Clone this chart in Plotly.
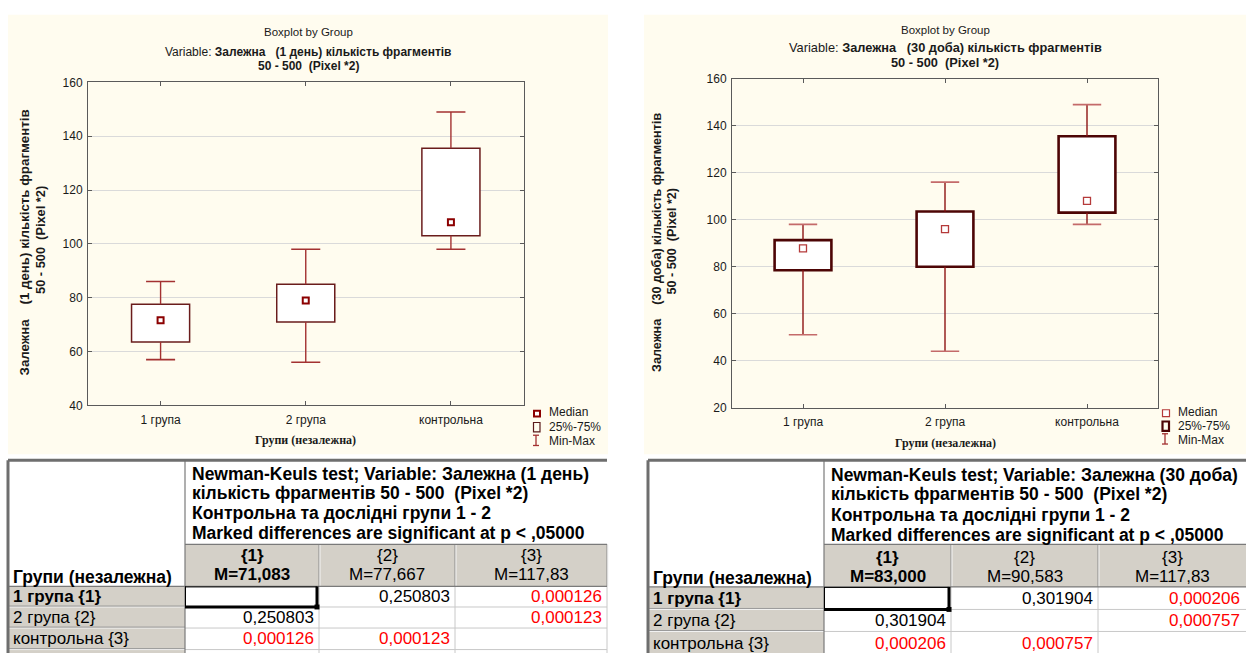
import plotly.graph_objects as go

W, H = 1246, 660
FONT = "Liberation Sans, Arial, sans-serif"
SERIF = "Liberation Serif, Times New Roman, serif"
NB = "\u00a0"

# ---------------- data ----------------
categories = ["1 група", "2 група", "контрольна"]

day1_min = [57, 56, 98]
day1_q1 = [63.5, 71, 103]
day1_median = [71.6, 79, 108]
day1_q3 = [77.6, 85, 135.5]
day1_max = [86, 98, 149]
day1_yticks = [40, 60, 80, 100, 120, 140, 160]

day30_min = [51, 44, 98]
day30_q1 = [78.5, 80, 103]
day30_median = [87.8, 96, 108]
day30_q3 = [91.3, 103.5, 135.5]
day30_max = [98, 116, 149]
day30_yticks = [20, 40, 60, 80, 100, 120, 140, 160]

legend_labels = ["Median", "25%-75%", "Min-Max"]

alpha = 0.05
day1_means = [71.083, 77.667, 117.83]
day1_p = [[None, 0.250803, 0.000126],
          [0.250803, None, 0.000123],
          [0.000126, 0.000123, None]]
day30_means = [83.000, 90.583, 117.83]
day30_p = [[None, 0.301904, 0.000206],
           [0.301904, None, 0.000757],
           [0.000206, 0.000757, None]]

day1_header = ["Newman-Keuls test; Variable: Залежна (1 день)",
               "кількість фрагментів 50 - 500" + NB + NB + "(Pixel *2)",
               "Контрольна та дослідні групи 1 - 2",
               "Marked differences are significant at p < ,05000"]
day30_header = ["Newman-Keuls test; Variable: Залежна (30 доба)",
                "кількість фрагментів 50 - 500" + NB + NB + "(Pixel *2)",
                "Контрольна та дослідні групи 1 - 2",
                "Marked differences are significant at p < ,05000"]
group_col_title = "Групи (незалежна)"
row_labels = [c + " {" + str(i + 1) + "}" for i, c in enumerate(categories)]

# ---------------- figure ----------------
fig = go.Figure()


def pxx(x):
    return x / W


def pxy(y):
    return 1 - y / H


CAP = 0.1
charts = [
    dict(xa="x", ya="y", mn=day1_min, q1=day1_q1, med=day1_median, q3=day1_q3, mx=day1_max,
         box_line="#6a1c1c", box_w=1.5, wh="#a33131", cap="#a33131",
         med_color="#8b0000", med_size=6, med_lw=2),
    dict(xa="x2", ya="y2", mn=day30_min, q1=day30_q1, med=day30_median, q3=day30_q3, mx=day30_max,
         box_line="#4d0505", box_w=2.6, wh="#8e1414", cap="#c46a6a",
         med_color="#b53a3a", med_size=7, med_lw=1.3),
]
xs = list(range(len(categories)))
for c in charts:
    fig.add_trace(go.Bar(
        x=xs, base=c["q1"], y=[b - a for a, b in zip(c["q1"], c["q3"])], width=0.4,
        marker=dict(color="white", line=dict(color=c["box_line"], width=c["box_w"])),
        xaxis=c["xa"], yaxis=c["ya"], showlegend=False, hoverinfo="skip"))
    wx, wy = [], []
    for i in xs:
        wx += [i, i, None, i, i, None]
        wy += [c["q3"][i], c["mx"][i], None, c["q1"][i], c["mn"][i], None]
    fig.add_trace(go.Scatter(x=wx, y=wy, mode="lines", line=dict(color=c["wh"], width=1.4),
                             xaxis=c["xa"], yaxis=c["ya"], showlegend=False, hoverinfo="skip"))
    cx, cy = [], []
    for i in xs:
        cx += [i - CAP, i + CAP, None, i - CAP, i + CAP, None]
        cy += [c["mx"][i], c["mx"][i], None, c["mn"][i], c["mn"][i], None]
    fig.add_trace(go.Scatter(x=cx, y=cy, mode="lines", line=dict(color=c["cap"], width=1.6),
                             xaxis=c["xa"], yaxis=c["ya"], showlegend=False, hoverinfo="skip"))
    fig.add_trace(go.Scatter(x=xs, y=c["med"], mode="markers",
                             marker=dict(symbol="square", size=c["med_size"], color="white",
                                         line=dict(color=c["med_color"], width=c["med_lw"])),
                             xaxis=c["xa"], yaxis=c["ya"], showlegend=False, hoverinfo="skip"))

# invisible anchor trace for the table subplot
fig.add_trace(go.Scatter(x=[0], y=[H], mode="markers", marker=dict(size=1, opacity=0),
                         xaxis="x3", yaxis="y3", showlegend=False, hoverinfo="skip"))

AX = "#5a5a5a"
tickfont = dict(family=FONT, size=12, color="#1a1a1a")
common_x = dict(range=[-0.5, 2.5], tickvals=xs, ticktext=categories, showline=True, linecolor=AX,
                linewidth=1, mirror="ticks", ticks="inside", ticklen=4, tickcolor=AX,
                showgrid=False, zeroline=False, tickfont=tickfont, fixedrange=True, ticklabelstandoff=3)
common_y = dict(showline=True, linecolor=AX, linewidth=1, mirror="ticks", ticks="inside", ticklen=4,
                tickcolor=AX, showgrid=True, gridcolor="#dadada", gridwidth=1, zeroline=False,
                tickfont=tickfont, fixedrange=True, ticklabelstandoff=2)

fig.update_layout(
    width=W, height=H, margin=dict(l=0, r=0, t=0, b=0),
    paper_bgcolor="white", plot_bgcolor="white", showlegend=False, barmode="overlay",
    xaxis=dict(domain=[pxx(88), pxx(523.5)], anchor="y", **common_x),
    yaxis=dict(domain=[pxy(407), pxy(77)], anchor="x", range=[40, 160], tickvals=day1_yticks, **common_y),
    xaxis2=dict(domain=[pxx(732), pxx(1158)], anchor="y2", **common_x),
    yaxis2=dict(domain=[pxy(409.3), pxy(73.3)], anchor="x2", range=[20, 160], tickvals=day30_yticks, **common_y),
    xaxis3=dict(domain=[0, 1], range=[0, W], visible=False, anchor="y3", fixedrange=True),
    yaxis3=dict(domain=[0, pxy(457)], range=[H, 457], visible=False, anchor="x3", fixedrange=True),
)

shapes = []
annotations = []

# cream panels
CREAM = "#fffcef"
shapes.append(dict(type="rect", xref="paper", yref="paper", x0=pxx(8), x1=pxx(608), y0=pxy(457), y1=pxy(8),
                   fillcolor=CREAM, line=dict(width=0), layer="below"))
shapes.append(dict(type="rect", xref="paper", yref="paper", x0=pxx(644), x1=pxx(1246), y0=pxy(457), y1=pxy(8),
                   fillcolor=CREAM, line=dict(width=0), layer="below"))


def ptext(x, y, s, size=12, bold=False, family=FONT, anchor="center", angle=0, color="#1a1a1a"):
    annotations.append(dict(xref="paper", yref="paper", x=pxx(x), y=pxy(y), text=("<b>%s</b>" % s) if bold else s,
                            showarrow=False, xanchor=anchor, yanchor="middle", textangle=angle,
                            font=dict(family=family, size=size, color=color)))


# chart titles
sp3 = NB * 3
sp4 = NB * 4
titles = [
    dict(cx=308, ys=(25.7, 45.7, 60), tsz=12, var="Залежна" + sp3 + "(1 день) кількість фрагментів",
         ytx=(24, 41), yty=(240.5, 238), ysz=(13.3, 12.8),
         ytitle="Залежна" + sp4 + "(1 день) кількість фрагментів", xt=(305, 442)),
    dict(cx=945, ys=(23.7, 41.7, 56.7), tsz=12.8, var="Залежна" + sp3 + "(30 доба) кількість фрагментів",
         ytx=(657, 672), yty=(241, 239.5), ysz=(12.6, 12.6),
         ytitle="Залежна" + sp4 + "(30 доба) кількість фрагментів", xt=(945, 445)),
]
for t in titles:
    ptext(t["cx"], t["ys"][0], "Boxplot by Group", size=11.5)
    ptext(t["cx"], t["ys"][1], "Variable: <b>" + t["var"] + "</b>", size=t["tsz"])
    ptext(t["cx"], t["ys"][2], "50 - 500" + NB + NB + "(Pixel *2)", size=t["tsz"], bold=True)
    ptext(t["ytx"][0], t["yty"][0], t["ytitle"], size=t["ysz"][0], bold=True, angle=-90)
    ptext(t["ytx"][1], t["yty"][1], "50 - 500" + NB + NB + "(Pixel *2)", size=t["ysz"][1], bold=True, angle=-90)
    ptext(t["xt"][0], t["xt"][1], group_col_title, size=12, bold=True, family=SERIF)


def pshape(kind, x0, y0, x1, y1, color, width, fill=None):
    d = dict(type=kind, xref="paper", yref="paper", x0=pxx(x0), x1=pxx(x1), y0=pxy(y0), y1=pxy(y1),
             line=dict(color=color, width=width), layer="above")
    if fill:
        d["fillcolor"] = fill
    shapes.append(d)


# legends
legs = [
    dict(mx=537, tx=547, ys=(414, 429, 443.5), med=("#8b0000", 2, 6), box=("#5a1a1a", 1.2), wh="#a33131"),
    dict(mx=1166, tx=1176, ys=(413.5, 428, 442), med=("#b53a3a", 1.2, 7), box=("#4d0505", 2.2), wh="#a33131"),
]
for L in legs:
    m = L["mx"]
    y0, y1, y2 = L["ys"]
    s = L["med"][2] / 2
    pshape("rect", m - s, y0 + 1.5 - s, m + s, y0 + 1.5 + s, L["med"][0], L["med"][1], fill="white")
    pshape("rect", m - 3.5, y1 - 4.5, m + 3, y1 + 5, L["box"][0], L["box"][1])
    pshape("line", m - 1, y2 - 6, m - 1, y2 + 4.5, L["wh"], 1.3)
    pshape("line", m - 4, y2 - 6, m + 2, y2 - 6, L["wh"], 1.3)
    pshape("line", m - 4, y2 + 4.5, m + 2, y2 + 4.5, L["wh"], 1.3)
    for yy, lab in zip(L["ys"], legend_labels):
        ptext(L["tx"], yy, lab, size=12, anchor="left")


# ---------------- tables ----------------
GRAY = "#d4d0c8"


def trect(x0, y0, x1, y1, fill=None, color=None, width=0):
    d = dict(type="rect", xref="x3", yref="y3", x0=x0, x1=x1, y0=y0, y1=y1,
             line=dict(color=color or "rgba(0,0,0,0)", width=width), layer="above")
    if fill:
        d["fillcolor"] = fill
    shapes.append(d)


def tline(x0, y0, x1, y1, color, width=1):
    shapes.append(dict(type="line", xref="x3", yref="y3", x0=x0, x1=x1, y0=y0, y1=y1,
                       line=dict(color=color, width=width), layer="above"))


def ttext(x, y, s, anchor="left", bold=False, color="#000", size=17):
    annotations.append(dict(xref="x3", yref="y3", x=x, y=y, text=("<b>%s</b>" % s) if bold else s,
                            showarrow=False, xanchor=anchor, yanchor="middle",
                            font=dict(family=FONT, size=size, color=color)))


def fmt_p(p):
    return ("%.6f" % p).replace(".", ",")


def fmt_m(m):
    d = 5 - len(str(int(m)))
    return "M=" + ("%.*f" % (d, m)).replace(".", ",")


tables = [
    dict(cols=[8, 185, 319, 455, 607], top=463, hb=549, cb=592, rows=[592, 613, 634.5, 656.5], bottom=662,
         hys=[477, 497, 517, 537.5], cys=(560, 580), corner_y=582.5, header=day1_header,
         means=day1_means, p=day1_p),
    dict(cols=[648, 824, 951, 1098, 1246.5], top=463, hb=549, cb=592.5, rows=[592.5, 615.5, 638, 662], bottom=662,
         hys=[478, 498, 518.5, 539], cys=(562, 581.5), corner_y=583, header=day30_header,
         means=day30_means, p=day30_p),
]
for T in tables:
    x0, c1, c2, c3, xe = T["cols"]
    colx = [c1, c2, c3, xe]
    top, hb, cb, rows, bottom = T["top"], T["hb"], T["cb"], T["rows"], T["bottom"]
    # gray header cells
    trect(c1, hb, xe, cb, fill=GRAY)
    trect(x0, cb, c1, bottom, fill=GRAY)
    # data grid lines
    for rb in rows[1:]:
        tline(c1, rb, xe, rb, "#c8c8c8", 1)
        tline(x0, rb, c1, rb, "#f4f4f4", 1)
        tline(x0, rb - 1, c1, rb - 1, "#9a9a9a", 1)
    for cx in colx[1:]:
        tline(cx, cb, cx, bottom, "#c8c8c8", 1)
        tline(cx, hb, cx, cb, "#8a8a8a", 1)
        tline(cx + 1, hb, cx + 1, cb, "#f4f4f4", 1)
    tline(c1, hb, xe, hb, "#7a7a7a", 1.2)
    tline(x0, cb, xe, cb, "#7a7a7a", 1.2)
    tline(c1, top, c1, bottom, "#7a7a7a", 1.2)
    # outer border
    tline(x0, top, xe, top, "#6e6e6e", 3)
    tline(x0, top, x0, bottom, "#6e6e6e", 3)
    # selected cell
    sx0, sx1, sy0, sy1 = c1, c2 - 2, rows[0], rows[1]
    tline(sx0, sy0 + 0.5, sx1, sy0 + 0.5, "#000", 1)
    tline(sx0 + 0.5, sy0, sx0 + 0.5, sy1, "#000", 1)
    tline(sx1, sy0, sx1, sy1, "#000", 3)
    tline(sx0, sy1, sx1, sy1, "#000", 3)
    trect(sx1 - 2.5, sy1 - 2.5, sx1 + 2.5, sy1 + 2.5, fill="#000")
    # texts
    for yy, s in zip(T["hys"], T["header"]):
        ttext(c1 + 5, yy, s, bold=True, size=17.5)
    ttext(x0 + 3, T["corner_y"], group_col_title, bold=True, size=17.5)
    for j in range(3):
        mid = (colx[j] + colx[j + 1]) / 2
        ttext(mid, T["cys"][0], "{" + str(j + 1) + "}", anchor="center", bold=(j == 0))
        ttext(mid, T["cys"][1], fmt_m(T["means"][j]), anchor="center", bold=(j == 0))
    for i in range(3):
        ymid = (rows[i] + rows[i + 1]) / 2
        ttext(x0 + 3, ymid, row_labels[i], bold=(i == 0))
        for j in range(3):
            p = T["p"][i][j]
            if p is None:
                continue
            ttext(min(colx[j + 1], W - 1) - 3, ymid, fmt_p(p), anchor="right",
                  color="#ff0000" if p < alpha else "#000")

fig.update_layout(shapes=shapes, annotations=annotations)
fig.write_html("out.html")
